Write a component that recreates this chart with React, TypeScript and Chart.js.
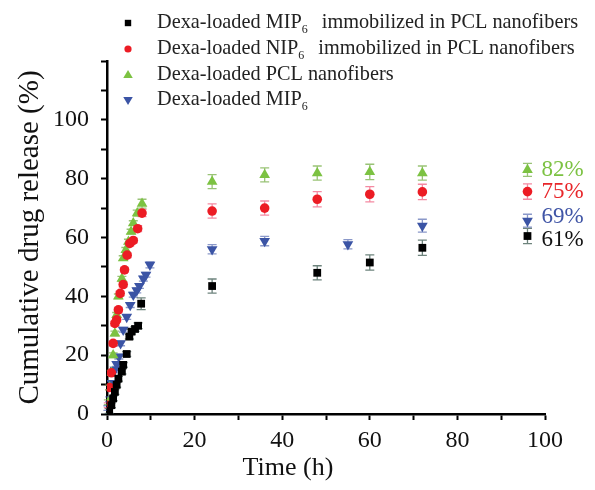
import React, { useEffect, useRef } from "react";
import { Chart, registerables } from "chart.js";

Chart.register(...registerables);

const FONT = '"Liberation Serif", "Times New Roman", serif';

// Dexa-loaded MIP6 immobilized in PCL nanofibers (black squares)
const mipPclTime = [0.5, 1, 1.4, 1.8, 2.2, 2.6, 3.4, 3.7, 4.5, 5.1, 5.6, 6.4, 7.1, 7.8, 24, 48, 60, 72, 96];
const mipPclRelease = [1, 3, 5.3, 7.5, 9.9, 12, 14.4, 16.7, 20.4, 26.3, 28, 28.9, 30, 37.5, 43.5, 48, 51.5, 56.5, 60.5];
const mipPclErr = [0.8, 0.8, 0.8, 0.8, 0.8, 0.8, 0.8, 0.8, 0.8, 0.8, 0.8, 0.8, 1, 2, 2.4, 2.4, 2.6, 2.6, 2.6];

// Dexa-loaded NIP6 immobilized in PCL nanofibers (red circles)
const nipPclTime = [0.3, 0.6, 1, 1.4, 1.8, 2.2, 2.6, 3, 3.7, 4, 4.6, 5.2, 6, 7, 8, 24, 36, 48, 60, 72, 96];
const nipPclRelease = [3, 9, 14, 24, 30.8, 32, 35.4, 41, 44, 49, 54, 58, 59, 63, 68.3, 69, 70, 73, 74.7, 75.5, 75.6];
const nipPclErr = [0.8, 0.8, 0.8, 0.8, 0.8, 0.8, 0.8, 0.8, 0.8, 0.8, 0.8, 0.8, 0.8, 1, 1.2, 2.4, 2.4, 2.6, 2.6, 2.6, 2.6];

// Dexa-loaded PCL nanofibers (green triangles)
const pclTime = [0.3, 0.6, 1, 1.4, 1.8, 2.2, 2.6, 3.4, 3.7, 4.3, 4.9, 5.5, 6, 6.9, 8, 24, 36, 48, 60, 72, 96];
const pclRelease = [4, 9, 14, 20, 27.4, 33.7, 40, 46, 53, 55.8, 58.6, 62, 64.9, 68.3, 71.5, 79, 81.3, 81.9, 82.3, 81.9, 83];
const pclErr = [0.8, 0.8, 0.8, 0.8, 0.8, 0.8, 0.8, 0.8, 0.8, 0.8, 0.8, 0.8, 0.8, 1, 1.5, 2.4, 2.4, 2.4, 2.6, 2.4, 2.2];

// Dexa-loaded MIP6 (blue inverted triangles)
const mipTime = [0.2, 0.6, 1.1, 1.8, 2.2, 2.7, 3.1, 3.7, 4.5, 5.3, 6, 6.8, 7.4, 8.3, 8.9, 9.8, 24, 36, 55, 72, 96];
const mipRelease = [2, 5, 10.5, 15, 17, 19.5, 24, 28.6, 33, 37, 40.5, 42, 43.5, 46, 47.3, 50.7, 56, 58.8, 57.7, 64, 65.7];
const mipErr = [0.8, 0.8, 0.8, 0.8, 0.8, 0.8, 0.8, 0.8, 0.8, 0.8, 0.8, 0.8, 0.8, 0.8, 0.8, 1, 1.6, 1.6, 1.6, 2.2, 2.2];

const finalLabels = ["61%", "75%", "82%", "69%"];
const labelOffsets = [4, 0, 0, -4];

const legendParts = [
  ["Dexa-loaded MIP", "6", "immobilized in PCL nanofibers"],
  ["Dexa-loaded NIP", "6", "immobilized in PCL nanofibers"],
  ["Dexa-loaded PCL nanofibers", "", ""],
  ["Dexa-loaded MIP", "6", ""],
];

const colors = ["#000000", "#ec1c24", "#7cc242", "#3b54a5"];
const textColors = ["#111111", "#e8262a", "#7cc242", "#4055a6"];
const errColors = ["rgba(60,90,80,0.75)", "rgba(236,60,100,0.6)", "rgba(110,170,60,0.7)", "rgba(60,84,165,0.6)"];
const styles: any[] = ["rect", "circle", "triangle", "triangle"];
const rotations = [0, 0, 0, 180];
const radii = [5.5, 4.8, 6.2, 6.2];

const series = [
  { t: mipPclTime, y: mipPclRelease, e: mipPclErr },
  { t: nipPclTime, y: nipPclRelease, e: nipPclErr },
  { t: pclTime, y: pclRelease, e: pclErr },
  { t: mipTime, y: mipRelease, e: mipErr },
];

function drawMarker(ctx: CanvasRenderingContext2D, i: number, x: number, y: number, r: number) {
  ctx.beginPath();
  if (i === 0) {
    ctx.rect(x - r, y - r, 2 * r, 2 * r);
  } else if (i === 1) {
    ctx.arc(x, y, r, 0, Math.PI * 2);
  } else if (i === 2) {
    ctx.moveTo(x, y - r);
    ctx.lineTo(x + r * 0.95, y + r * 0.6);
    ctx.lineTo(x - r * 0.95, y + r * 0.6);
    ctx.closePath();
  } else {
    ctx.moveTo(x, y + r);
    ctx.lineTo(x + r * 0.95, y - r * 0.6);
    ctx.lineTo(x - r * 0.95, y - r * 0.6);
    ctx.closePath();
  }
  ctx.fill();
}

const errorBarPlugin = {
  id: "errorBars",
  beforeDatasetsDraw(chart: any) {
    const ctx = chart.ctx;
    const ys = chart.scales.y;
    chart.data.datasets.forEach((ds: any, i: number) => {
      const meta = chart.getDatasetMeta(i);
      ctx.save();
      ctx.strokeStyle = errColors[i];
      ctx.lineWidth = 1.3;
      meta.data.forEach((pt: any, j: number) => {
        const v = series[i].y[j];
        const e = series[i].e[j];
        const y1 = ys.getPixelForValue(v + e);
        const y2 = ys.getPixelForValue(v - e);
        ctx.beginPath();
        ctx.moveTo(pt.x, y1);
        ctx.lineTo(pt.x, y2);
        ctx.moveTo(pt.x - 4.5, y1);
        ctx.lineTo(pt.x + 4.5, y1);
        ctx.moveTo(pt.x - 4.5, y2);
        ctx.lineTo(pt.x + 4.5, y2);
        ctx.stroke();
      });
      ctx.restore();
    });
  },
};

const annotPlugin = {
  id: "annot",
  afterDraw(chart: any) {
    const ctx = chart.ctx;
    const area = chart.chartArea;
    ctx.save();
    // final value labels
    ctx.font = `23px ${FONT}`;
    ctx.textBaseline = "middle";
    ctx.textAlign = "left";
    chart.data.datasets.forEach((ds: any, i: number) => {
      const meta = chart.getDatasetMeta(i);
      const last = meta.data[meta.data.length - 1];
      ctx.fillStyle = textColors[i];
      ctx.fillText(finalLabels[i], last.x + 14, last.y + labelOffsets[i]);
    });
    // legend
    const rowY = [23, 49, 75, 100];
    const fs = 20.3;
    legendParts.forEach((parts, i) => {
      const y = rowY[i];
      ctx.fillStyle = colors[i];
      drawMarker(ctx, i, 128, y, i === 0 ? 3.2 : i === 1 ? 3.6 : 5);
      ctx.fillStyle = "#222";
      ctx.textBaseline = "middle";
      ctx.font = `${fs}px ${FONT}`;
      let x = 157;
      ctx.fillText(parts[0], x, y);
      x += ctx.measureText(parts[0]).width;
      if (parts[1]) {
        ctx.font = `12px ${FONT}`;
        ctx.fillText(parts[1], x, y + 7);
        x += ctx.measureText(parts[1]).width;
        ctx.font = `${fs}px ${FONT}`;
      }
      if (parts[2]) ctx.fillText(parts[2], x + 14, y);
    });
    // x axis title
    ctx.fillStyle = "#111";
    ctx.font = `26px ${FONT}`;
    ctx.textAlign = "center";
    ctx.textBaseline = "middle";
    ctx.fillText("Time (h)", (area.left + area.right) / 2 - 38, 468);
    ctx.restore();
  },
};

export default function App() {
  const ref = useRef<HTMLCanvasElement>(null);
  useEffect(() => {
    const datasets = series.map((s, i) => ({
      label: legendParts[i].join(" "),
      data: s.t.map((t, j) => ({ x: t, y: s.y[j] })),
      showLine: false,
      pointStyle: styles[i],
      pointRotation: rotations[i],
      pointRadius: radii[i],
      pointBackgroundColor: colors[i],
      pointBorderColor: colors[i],
      pointBorderWidth: 0,
    }));
    const chart = new Chart(ref.current!, {
      type: "scatter",
      data: { datasets },
      options: {
        responsive: false,
        animation: false,
        layout: { padding: { top: 61, right: 50, left: 0, bottom: 0 } },
        plugins: { legend: { display: false }, tooltip: { enabled: false } },
        scales: {
          x: {
            type: "linear",
            min: 0,
            max: 100,
            afterFit: (s: any) => { s.height = 76; },
            border: { color: "#000", width: 2.5 },
            grid: { display: true, drawOnChartArea: false, drawTicks: true, tickLength: 6, tickWidth: 2, tickColor: "#000" },
            ticks: {
              stepSize: 10,
              padding: 6,
              color: "#111",
              font: { family: FONT, size: 24 },
              maxRotation: 0,
              autoSkip: false,
              callback: (v: any) => (v % 20 === 0 ? String(v) : ""),
            },
          },
          y: {
            type: "linear",
            min: 0,
            max: 120,
            afterFit: (s: any) => { s.width = 107; },
            border: { color: "#000", width: 2.5 },
            grid: { display: true, drawOnChartArea: false, drawTicks: true, tickLength: 6, tickWidth: 2, tickColor: "#000" },
            title: {
              display: true,
              text: "Cumulative drug release (%)",
              color: "#111",
              font: { family: FONT, size: 29, weight: "normal" },
              padding: { top: 13, bottom: 0 },
            },
            ticks: {
              stepSize: 10,
              padding: 12,
              color: "#111",
              font: { family: FONT, size: 24 },
              autoSkip: false,
              callback: (v: any) => (v % 20 === 0 && v <= 100 ? String(v) : ""),
            },
          },
        },
      },
      plugins: [errorBarPlugin, annotPlugin],
    });
    return () => chart.destroy();
  }, []);
  return (
    <div style={{ position: "absolute", left: 0, top: 0, width: 595, height: 490, background: "#fff" }}>
      <canvas ref={ref} width={595} height={490} style={{ display: "block" }} />
    </div>
  );
}
